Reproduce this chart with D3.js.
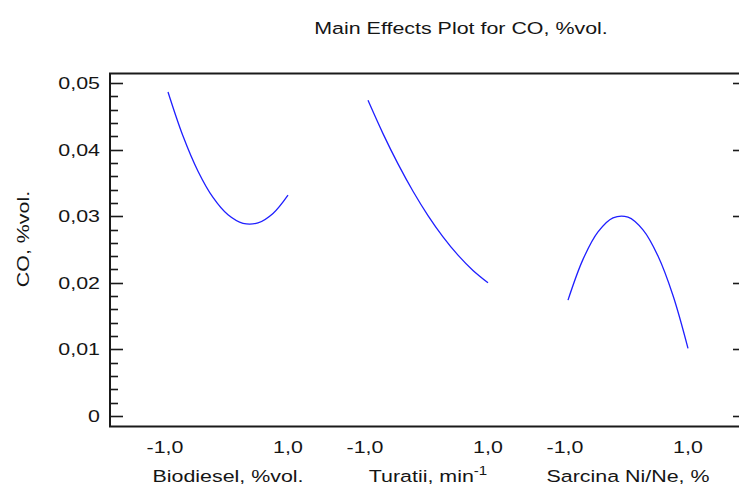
<!DOCTYPE html>
<html>
<head>
<meta charset="utf-8">
<script src="https://cdn.jsdelivr.net/npm/d3@7"></script>
<style>
  html, body { margin: 0; padding: 0; background: #fff; }
  svg { display: block; }
  text { font-family: "Liberation Sans", Arial, sans-serif; }
</style>
</head>
<body>
<svg id="chart" width="739" height="487"></svg>
<script>
// Coded factor levels at which each main-effect curve is sampled
const levels = [-1, -0.75, -0.5, -0.25, 0, 0.25, 0.5, 0.75, 1];

// Factor names shown under the x axis
const factors = ["Biodiesel, %vol.", "Turatii, min", "Sarcina Ni/Ne, %"];
const factorSup = ["", "-1", ""];

// Predicted CO, %vol. along each factor
const coBiodiesel = [0.04865, 0.04203, 0.03675, 0.03281, 0.03020, 0.02893, 0.02900, 0.03041, 0.03316];
const coTuratii   = [0.04740, 0.04240, 0.03785, 0.03375, 0.03010, 0.02690, 0.02415, 0.02185, 0.02000];
const coSarcina   = [0.01740, 0.02352, 0.02764, 0.02975, 0.02985, 0.02794, 0.02402, 0.01809, 0.01016];

const series = [coBiodiesel, coTuratii, coSarcina];

// Axis ticks
const yTicks = [0, 0.01, 0.02, 0.03, 0.04, 0.05];
const yMinorStep = 0.002;
const xTickValues = [-1, 1];
const xTickLabels = ["-1,0", "1,0"];

const title = "Main Effects Plot for CO, %vol.";
const yTitle = "CO, %vol.";

// ---- layout ----
const svg = d3.select("#chart");
const frame = { left: 110, right: 740, top: 73.5, bottom: 426.5 };
const fontSize = 17;
const widen = 1.26;          // the labels use a broad, stretched sans face
const ink = "#151515";

const y = d3.scaleLinear().domain([0, 0.05]).range([416, 83]);

// each factor gets a band; inside it the coded range [-1, 1] spans the middle part
const band = d3.scaleBand().domain(factors).range([128, 728]);
const inner = 40;
const xFor = f => d3.scaleLinear().domain([-1, 1])
  .range([band(f) + inner, band(f) + band.bandwidth() - inner]);

const fmt = v => v === 0 ? "0" : d3.format(".2f")(v).replace(".", ",");

// text placed at (x, y), optionally rotated, then widened along its own baseline
function label(parent, x, yy, anchor, rotate) {
  return parent.append("text")
    .attr("transform", `translate(${x},${yy})${rotate ? ` rotate(${rotate})` : ""} scale(${widen},1)`)
    .attr("text-anchor", anchor)
    .attr("font-size", fontSize)
    .attr("fill", ink);
}

// title
label(svg, 461, 34, "middle").text(title);

// y axis title
label(svg, 29, 239, "middle", -90).text(yTitle);

// plot frame (right edge falls just outside the view)
svg.append("path")
  .attr("d", `M${frame.right},${frame.top}H${frame.left}V${frame.bottom}H${frame.right}`)
  .attr("fill", "none")
  .attr("stroke", "#1a1a1a")
  .attr("stroke-width", 2);

// left axis: major + minor ticks
const minor = d3.range(0, 0.05 + 1e-9, yMinorStep).filter(v => !yTicks.some(t => Math.abs(t - v) < 1e-9));
const py = d => Math.round(y(d)) + 0.5;
svg.append("g").selectAll("line").data(minor).join("line")
  .attr("x1", frame.left).attr("x2", frame.left + 8)
  .attr("y1", py).attr("y2", py)
  .attr("stroke", "#1a1a1a").attr("stroke-width", 1.6);
svg.append("g").selectAll("line").data(yTicks).join("line")
  .attr("x1", frame.left).attr("x2", frame.left + 13)
  .attr("y1", py).attr("y2", py)
  .attr("stroke", "#1a1a1a").attr("stroke-width", 1.6);

// right axis: major ticks only
svg.append("g").selectAll("line").data(yTicks).join("line")
  .attr("x1", frame.right - 7).attr("x2", frame.right)
  .attr("y1", py).attr("y2", py)
  .attr("stroke", "#1a1a1a").attr("stroke-width", 1.6);

// y tick labels
const yLab = svg.append("g");
yTicks.forEach(v => {
  label(yLab, 100, y(v) + 6, "end").text(fmt(v));
});

// per-factor x labels and curves
const line = d3.line().curve(d3.curveCatmullRom.alpha(0.5));

factors.forEach((f, i) => {
  const x = xFor(f);
  const g = svg.append("g");

  xTickValues.forEach((v, j) => {
    label(g, x(v) - (v < 0 ? 3 : 0), 453, "middle").text(xTickLabels[j]);
  });

  const t = label(g, band(f) + band.bandwidth() / 2, 482, "middle");
  t.append("tspan").text(f);
  if (factorSup[i]) {
    t.append("tspan").attr("dy", -7).attr("font-size", 12).text(factorSup[i]);
  }

  g.append("path")
    .datum(levels.map((l, k) => [x(l), y(series[i][k])]))
    .attr("d", line)
    .attr("fill", "none")
    .attr("stroke", "#1f1fff")
    .attr("stroke-width", 1.3);
});
</script>
</body>
</html>
